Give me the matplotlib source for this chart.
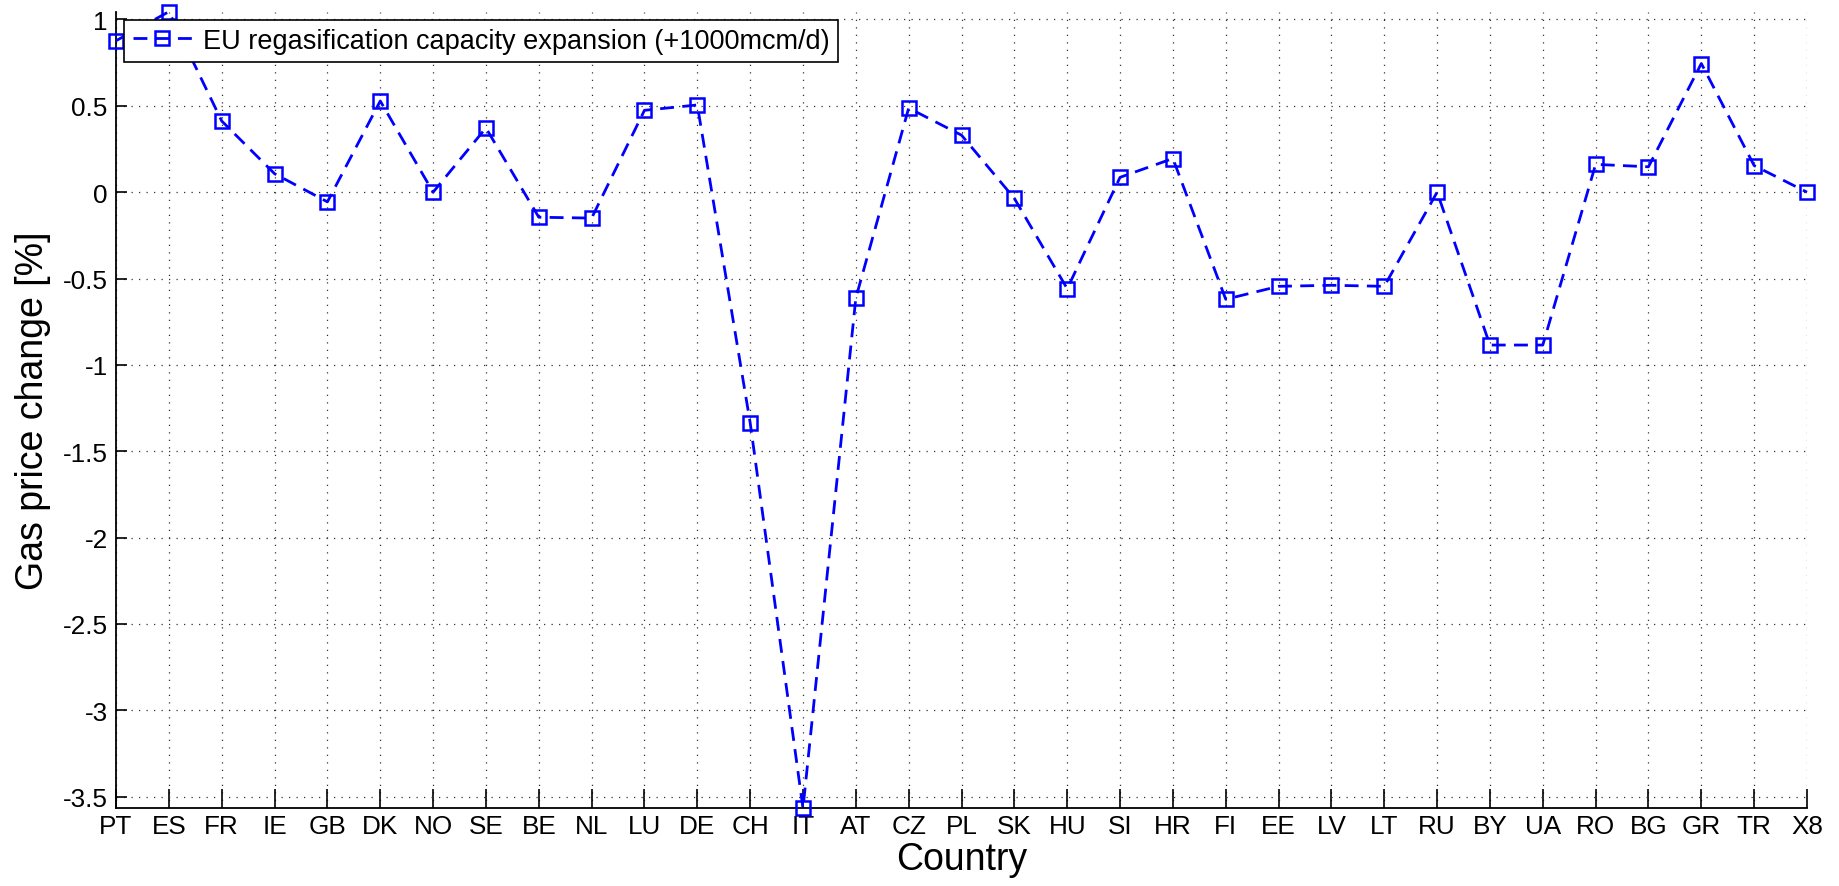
import numpy as np
import matplotlib.pyplot as plt

plt.rcParams['font.family'] = ['Liberation Sans', 'DejaVu Sans']

# Gas price change per country [%]
countries = ['PT', 'ES', 'FR', 'IE', 'GB', 'DK', 'NO', 'SE', 'BE', 'NL', 'LU',
             'DE', 'CH', 'IT', 'AT', 'CZ', 'PL', 'SK', 'HU', 'SI', 'HR', 'FI',
             'EE', 'LV', 'LT', 'RU', 'BY', 'UA', 'RO', 'BG', 'GR', 'TR', 'X8']
price_change = [0.877, 1.045, 0.412, 0.107, -0.056, 0.528, 0.0, 0.372, -0.145,
                -0.150, 0.474, 0.505, -1.334, -3.567, -0.613, 0.487, 0.330,
                -0.036, -0.559, 0.086, 0.195, -0.620, -0.545, -0.539, -0.545,
                0.0, -0.885, -0.885, 0.161, 0.147, 0.745, 0.154, 0.0]
yticks = [-3.5, -3, -2.5, -2, -1.5, -1, -0.5, 0, 0.5, 1]

x = np.arange(1, len(countries) + 1)

fig = plt.figure(figsize=(18.39, 8.87), dpi=100)
ax = fig.add_axes([0.0631, 0.0876, 0.9195, 0.8981])

ax.plot(x, price_change, color=(0, 0, 1), linestyle='--', dashes=(5, 3),
        linewidth=2.0, marker='s', markersize=9.5, markerfacecolor='none',
        markeredgewidth=1.8, markeredgecolor=(0, 0, 1), clip_on=False,
        zorder=3, label='EU regasification capacity expansion (+1000mcm/d)')

ax.set_xlim(1, len(countries))
ax.set_ylim(min(price_change), max(price_change))
ax.set_xticks(x)
ax.set_xticklabels(countries)
ax.set_yticks(yticks)
ax.set_yticklabels(['%g' % v for v in yticks])

ax.grid(True, color='#333333', linestyle=(0, (1, 5)), linewidth=0.9)
ax.set_axisbelow(True)

for side in ['top', 'right']:
    ax.spines[side].set_visible(False)
for side in ['left', 'bottom']:
    ax.spines[side].set_linewidth(1.3)

ax.tick_params(axis='x', direction='in', length=13.5, width=1.2,
               labelsize=18.8, pad=4)
ax.tick_params(axis='y', direction='in', length=8, width=1.2,
               labelsize=18.8, pad=6)

ax.set_xlabel('Country', fontsize=27, labelpad=2)
ax.set_ylabel('Gas price change [%]', fontsize=27, labelpad=8)

leg = ax.legend(loc='upper left', bbox_to_anchor=(0.005, 0.99), fontsize=19.5,
                frameon=True, fancybox=False, borderpad=0.3, handlelength=2.2,
                handletextpad=0.4, borderaxespad=0)
leg.get_frame().set_edgecolor('black')
leg.get_frame().set_linewidth(1.2)
leg.get_frame().set_alpha(1)
leg.set_zorder(5)

plt.savefig('out.png', dpi=100)
